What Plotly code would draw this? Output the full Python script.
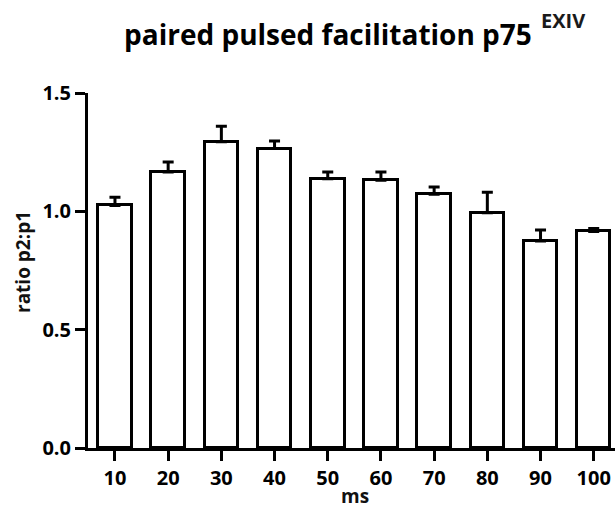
import plotly.graph_objects as go

# Paired-pulse ratio (p2:p1) for each inter-stimulus interval
intervals = ["10", "20", "30", "40", "50", "60", "70", "80", "90", "100"]
ratio_mean = [1.025, 1.166, 1.294, 1.265, 1.138, 1.131, 1.072, 0.994, 0.875, 0.915]
ratio_sem = [0.035, 0.042, 0.066, 0.032, 0.028, 0.035, 0.031, 0.087, 0.046, 0.012]
y_ticks = [0.0, 0.5, 1.0, 1.5]
y_tick_text = ["0.0", "0.5", "1.0", "1.5"]

FONT = "Open Sans"
W, H = 615, 510
ML, MR, MT, MB = 88, 0, 93, 62
PW = W - ML - MR
PH = H - MT - MB


def px_x(px):
    return (px - ML) / PW


def px_y(py):
    return (H - MB - py) / PH


fig = go.Figure()
fig.add_trace(go.Bar(
    x=list(range(len(intervals))),
    y=ratio_mean,
    width=0.63,
    marker=dict(color="white", line=dict(color="black", width=3)),
    error_y=dict(
        type="data", symmetric=False,
        array=ratio_sem, arrayminus=[0] * len(ratio_sem),
        color="black", thickness=3, width=5.5,
    ),
    showlegend=False,
))

tick_font = dict(family=FONT, size=20, color="black", weight="bold")

fig.update_layout(
    width=W, height=H,
    margin=dict(l=ML, r=MR, t=MT, b=MB, pad=0),
    paper_bgcolor="white", plot_bgcolor="white",
    font=dict(family=FONT, color="black"),
    bargap=0,
    xaxis=dict(
        range=[-0.507, 9.4],
        tickmode="array",
        tickvals=list(range(len(intervals))),
        ticktext=intervals,
        showgrid=False, zeroline=False,
        showline=True, linecolor="black", linewidth=3,
        ticks="outside", ticklen=10, tickwidth=3, tickcolor="black",
        tickfont=tick_font,
    ),
    yaxis=dict(
        range=[0, 1.5],
        tickmode="array",
        tickvals=y_ticks,
        ticktext=y_tick_text,
        showgrid=False, zeroline=False,
        showline=True, linecolor="black", linewidth=3,
        ticks="outside", ticklen=10, tickwidth=3, tickcolor="black",
        tickfont=tick_font,
    ),
)

# Title with superscript genotype label
fig.add_annotation(
    text="<b>paired pulsed facilitation p75</b>",
    xref="paper", yref="paper", x=px_x(122), y=px_y(34),
    xanchor="left", yanchor="middle", showarrow=False,
    font=dict(family=FONT, size=28, color="black"),
)
fig.add_annotation(
    text="<b>EXIV</b>",
    xref="paper", yref="paper", x=px_x(539), y=px_y(20),
    xanchor="left", yanchor="middle", showarrow=False,
    font=dict(family=FONT, size=20, color="#1a1a1a"),
)

# Axis titles
fig.add_annotation(
    text="<b>ratio p2:p1</b>",
    xref="paper", yref="paper", x=px_x(23), y=px_y(262),
    xanchor="center", yanchor="middle", textangle=-90, showarrow=False,
    font=dict(family=FONT, size=19, color="#111111"),
)
fig.add_annotation(
    text="<b>ms</b>",
    xref="paper", yref="paper", x=px_x(355), y=px_y(496),
    xanchor="center", yanchor="middle", showarrow=False,
    font=dict(family=FONT, size=19, color="#111111"),
)

fig.write_html("out.html")
